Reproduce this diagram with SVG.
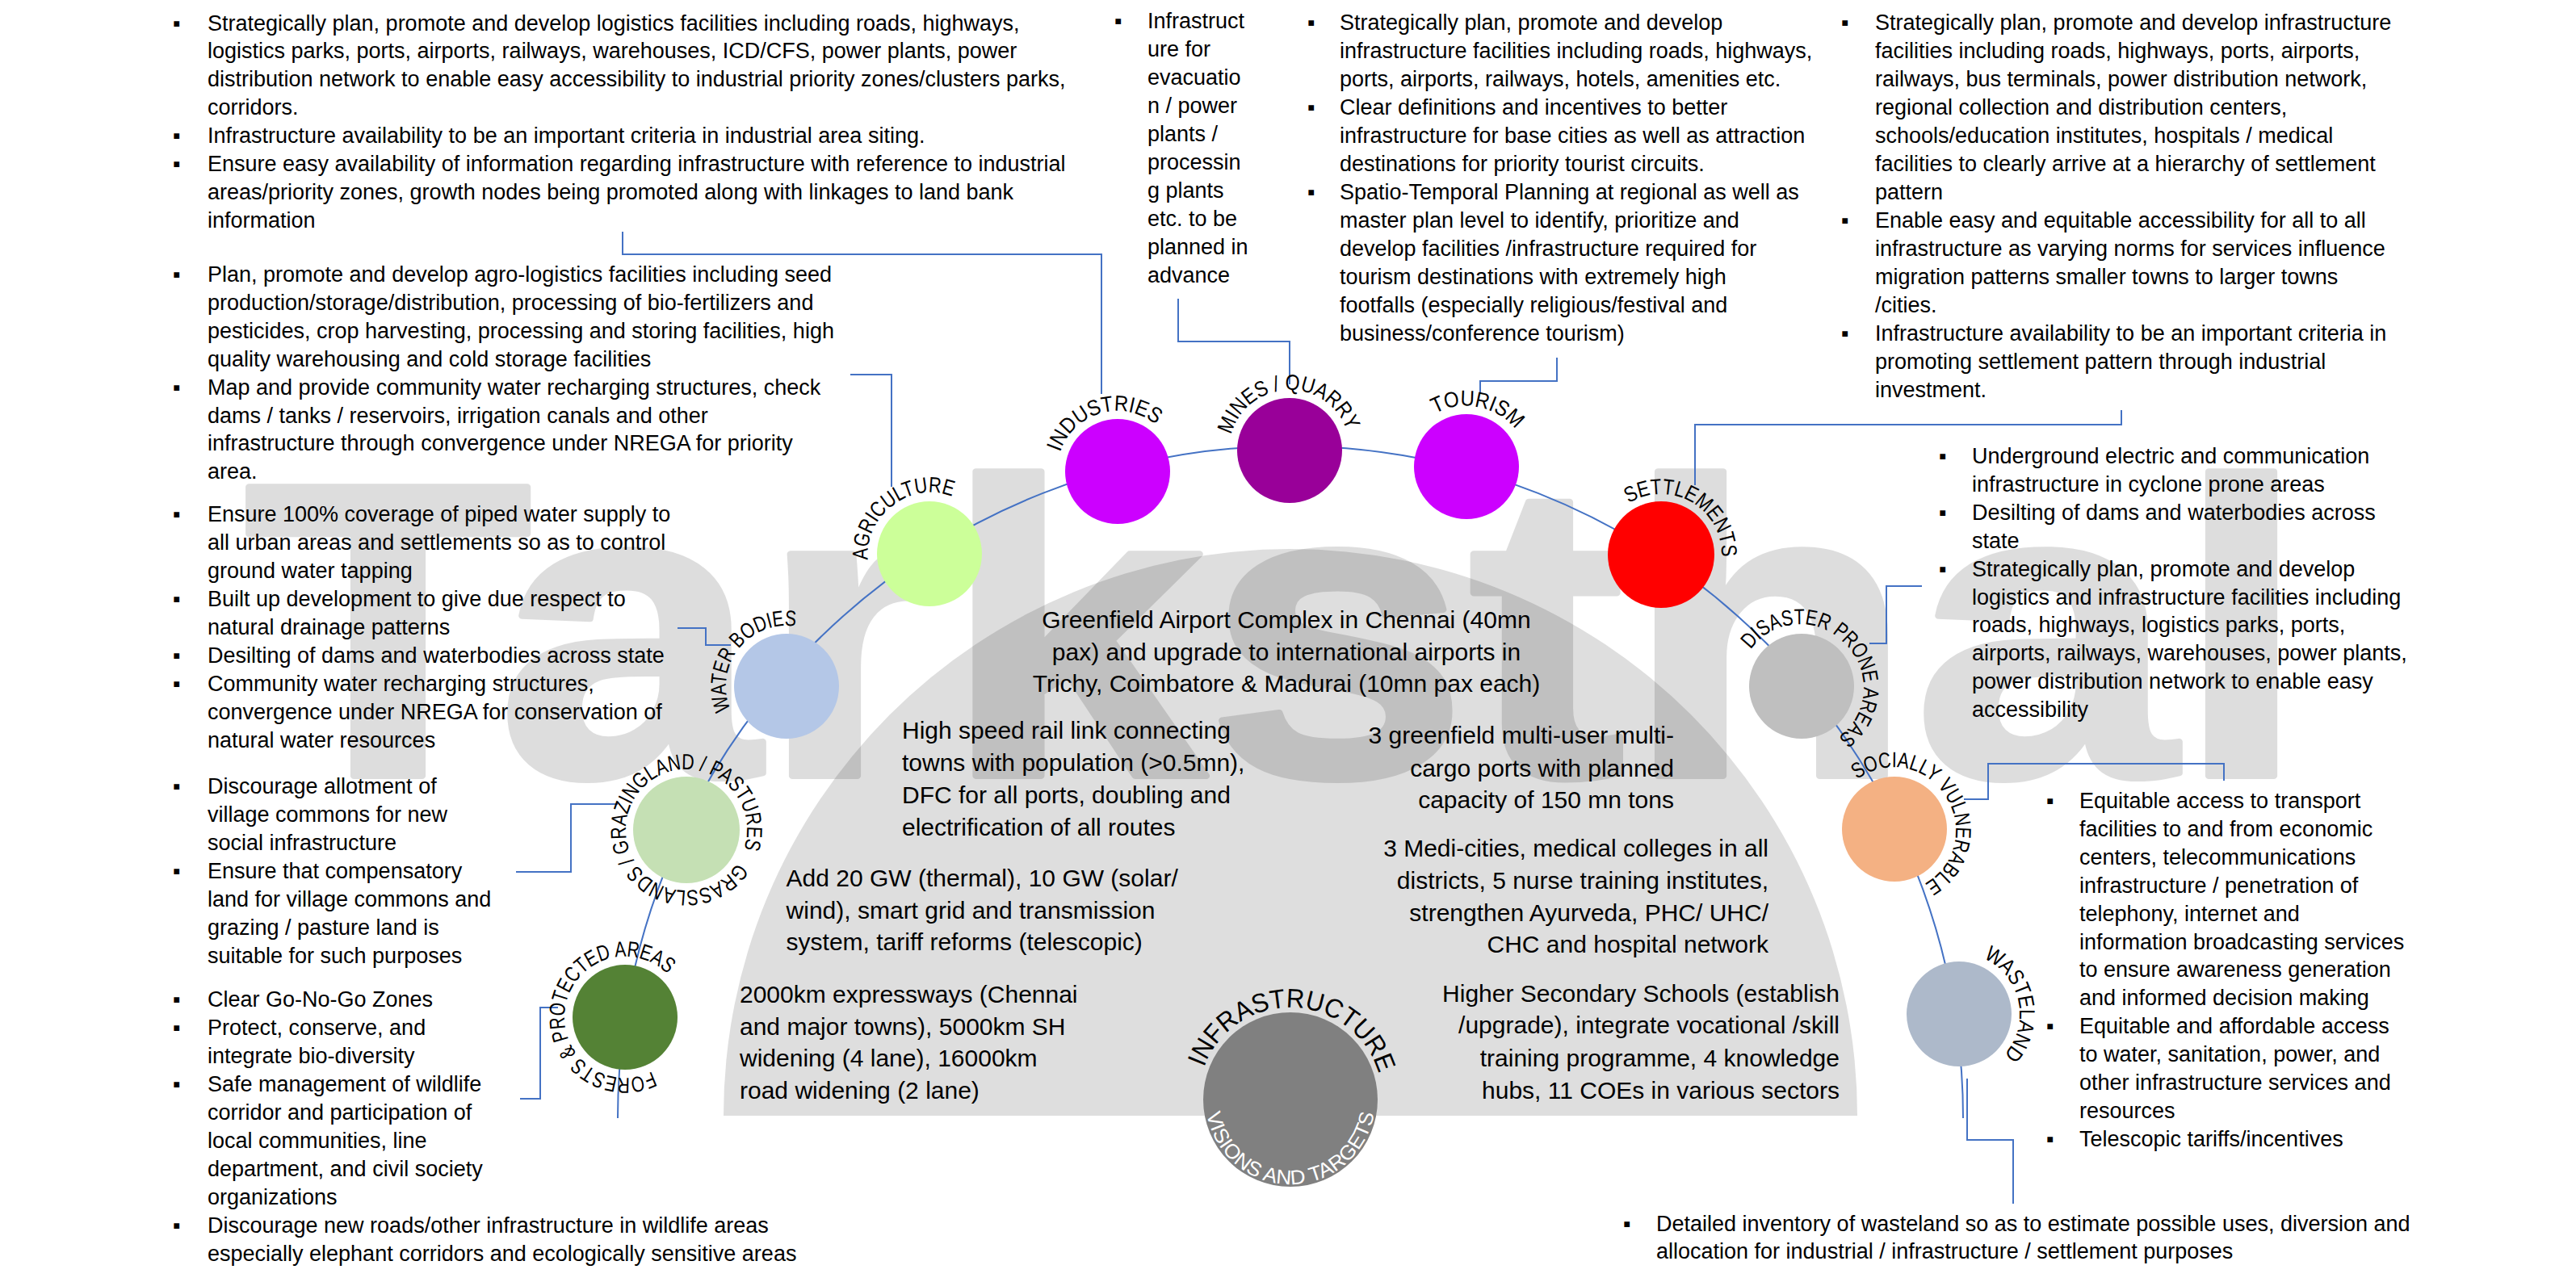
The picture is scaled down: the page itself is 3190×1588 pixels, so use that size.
<svg xmlns="http://www.w3.org/2000/svg" xmlns:xlink="http://www.w3.org/1999/xlink" width="3190" height="1588" viewBox="0 0 3190 1588">
<defs>
<style>
.t{font-family:"Liberation Sans",Arial,sans-serif;font-size:27px;fill:#000}
.c{font-family:"Liberation Sans",Arial,sans-serif;font-size:30px;fill:#000}
.lbl{font-family:"Liberation Sans",Arial,sans-serif;font-size:27px;fill:#000}
.conn{fill:none;stroke:#4472C4;stroke-width:2}
</style>
<path id="p-agr" d="M1196.1 745.9 A75 75 0 1 1 1105.9 626.1 A75 75 0 1 1 1196.1 745.9"/>
<path id="p-ind" d="M1404.7 656.1 A75 75 0 1 1 1363.3 511.9 A75 75 0 1 1 1404.7 656.1"/>
<path id="p-min" d="M1599.6 633 A75 75 0 1 1 1594.4 483 A75 75 0 1 1 1599.6 633"/>
<path id="p-tou" d="M1801.7 651.6 A75 75 0 1 1 1830.3 504.4 A75 75 0 1 1 1801.7 651.6"/>
<path id="p-set" d="M2019.5 752 A75 75 0 1 1 2094.5 622 A75 75 0 1 1 2019.5 752"/>
<path id="p-dis" d="M2178 903 A75 75 0 1 1 2284 797 A75 75 0 1 1 2178 903"/>
<path id="p-soc" d="M2283.1 1067.8 A75 75 0 1 1 2408.9 986.2 A75 75 0 1 1 2283.1 1067.8"/>
<path id="p-was" d="M2352.6 1271.6 A75 75 0 1 1 2499.4 1240.4 A75 75 0 1 1 2352.6 1271.6"/>
<path id="p-wat" d="M1033.1 896.2 A75 75 0 1 1 914.9 803.8 A75 75 0 1 1 1033.1 896.2"/>
<path id="p-gra" d="M917.7 1060.3 A75 75 0 1 1 782.3 995.7 A75 75 0 1 1 917.7 1060.3"/>
<path id="p-for" d="M848.1 1271.7 A75 75 0 1 1 699.9 1248.3 A75 75 0 1 1 848.1 1271.7"/>
<path id="p-inf" d="M1594 1476 A114 114 0 1 1 1602 1248 A114 114 0 1 1 1594 1476"/>
<path id="p-vis" d="M1598 1257 A105 105 0 1 0 1598 1467 A105 105 0 1 0 1598 1257"/>
</defs>
<rect x="0" y="0" width="3190" height="1588" fill="#FFFFFF"/>
<g id="background">
<path d="M896 1382 A702 702 0 0 1 2300 1382 Z" fill="#DEDEDE"/>
</g>
<g id="watermark" opacity="0.13">
<text x="302" y="961" font-family="Liberation Sans,Arial,sans-serif" font-weight="bold" font-size="520" textLength="2555" lengthAdjust="spacingAndGlyphs" fill="#000" stroke="#000" stroke-width="8" stroke-linejoin="round">Tarksthal</text>
</g>
<g id="connectors">
<path class="conn" d="M765 1385 A833 833 0 0 1 2431 1385"/>
<path class="conn" d="M771 287 V315 H1364 V488"/>
<path class="conn" d="M1053 464 H1104 V603"/>
<path class="conn" d="M1459 370 V423 H1597 V476"/>
<path class="conn" d="M1928 443 V472 H1833 V487"/>
<path class="conn" d="M2627 508 V526 H2099 V601"/>
<path class="conn" d="M839 778 H874 V799 H905"/>
<path class="conn" d="M639 1080 H707 V996 H765"/>
<path class="conn" d="M644 1361 H669 V1248 H691"/>
<path class="conn" d="M2380 726 H2336 V797 H2315"/>
<path class="conn" d="M2754 967 V946 H2462 V990 H2432"/>
<path class="conn" d="M2436 1336 V1412 H2493 V1491"/>
</g>
<g id="node-industries">
<circle cx="1384" cy="584" r="65" fill="#CC00FF"/>
<text class="lbl"><textPath xlink:href="#p-ind" startOffset="50%" text-anchor="middle" textLength="145" lengthAdjust="spacingAndGlyphs">INDUSTRIES</textPath></text>
<text class="t"><tspan x="214" y="37.5">▪</tspan><tspan x="257" y="37.5">Strategically plan, promote and develop logistics facilities including roads, highways,</tspan><tspan x="257" y="72.4">logistics parks, ports, airports, railways, warehouses, ICD/CFS, power plants, power</tspan><tspan x="257" y="107.3">distribution network to enable easy accessibility to industrial priority zones/clusters parks,</tspan><tspan x="257" y="142.2">corridors.</tspan><tspan x="214" y="177.1">▪</tspan><tspan x="257" y="177.1">Infrastructure availability to be an important criteria in industrial area siting.</tspan><tspan x="214" y="212">▪</tspan><tspan x="257" y="212">Ensure easy availability of information regarding infrastructure with reference to industrial</tspan><tspan x="257" y="246.9">areas/priority zones, growth nodes being promoted along with linkages to land bank</tspan><tspan x="257" y="281.8">information</tspan></text>
</g>
<g id="node-agriculture">
<circle cx="1151" cy="686" r="65" fill="#CCFF99"/>
<text class="lbl"><textPath xlink:href="#p-agr" startOffset="50%" text-anchor="middle" textLength="155" lengthAdjust="spacingAndGlyphs">AGRICULTURE</textPath></text>
<text class="t"><tspan x="214" y="349">▪</tspan><tspan x="257" y="349">Plan, promote and develop agro-logistics facilities including seed</tspan><tspan x="257" y="383.9">production/storage/distribution, processing of bio-fertilizers and</tspan><tspan x="257" y="418.8">pesticides, crop harvesting, processing and storing facilities, high</tspan><tspan x="257" y="453.7">quality warehousing and cold storage facilities</tspan><tspan x="214" y="488.6">▪</tspan><tspan x="257" y="488.6">Map and provide community water recharging structures, check</tspan><tspan x="257" y="523.5">dams / tanks / reservoirs, irrigation canals and other</tspan><tspan x="257" y="558.4">infrastructure through convergence under NREGA for priority</tspan><tspan x="257" y="593.3">area.</tspan></text>
</g>
<g id="node-mines">
<circle cx="1597" cy="558" r="65" fill="#990099"/>
<text class="lbl"><textPath xlink:href="#p-min" startOffset="50%" text-anchor="middle" textLength="191" lengthAdjust="spacingAndGlyphs">MINES / QUARRY</textPath></text>
<text class="t"><tspan x="1380" y="35">▪</tspan><tspan x="1421" y="35">Infrastruct</tspan><tspan x="1421" y="70">ure for</tspan><tspan x="1421" y="105">evacuatio</tspan><tspan x="1421" y="140">n / power</tspan><tspan x="1421" y="175">plants /</tspan><tspan x="1421" y="210">processin</tspan><tspan x="1421" y="245">g plants</tspan><tspan x="1421" y="280">etc. to be</tspan><tspan x="1421" y="315">planned in</tspan><tspan x="1421" y="350">advance</tspan></text>
</g>
<g id="node-tourism">
<circle cx="1816" cy="578" r="65" fill="#CC00FF"/>
<text class="lbl"><textPath xlink:href="#p-tou" startOffset="50%" text-anchor="middle" textLength="110" lengthAdjust="spacingAndGlyphs">TOURISM</textPath></text>
<text class="t"><tspan x="1619" y="37">▪</tspan><tspan x="1659" y="37">Strategically plan, promote and develop</tspan><tspan x="1659" y="72">infrastructure facilities including roads, highways,</tspan><tspan x="1659" y="107">ports, airports, railways, hotels, amenities etc.</tspan><tspan x="1619" y="142">▪</tspan><tspan x="1659" y="142">Clear definitions and incentives to better</tspan><tspan x="1659" y="177">infrastructure for base cities as well as attraction</tspan><tspan x="1659" y="212">destinations for priority tourist circuits.</tspan><tspan x="1619" y="247">▪</tspan><tspan x="1659" y="247">Spatio-Temporal Planning at regional as well as</tspan><tspan x="1659" y="282">master plan level to identify, prioritize and</tspan><tspan x="1659" y="317">develop facilities /infrastructure required for</tspan><tspan x="1659" y="352">tourism destinations with extremely high</tspan><tspan x="1659" y="387">footfalls (especially religious/festival and</tspan><tspan x="1659" y="422">business/conference tourism)</tspan></text>
</g>
<g id="node-settlements">
<circle cx="2057" cy="687" r="66" fill="#FF0000"/>
<text class="lbl"><textPath xlink:href="#p-set" startOffset="50%" text-anchor="middle" textLength="163" lengthAdjust="spacingAndGlyphs">SETTLEMENTS</textPath></text>
<text class="t"><tspan x="2280" y="36.7">▪</tspan><tspan x="2322" y="36.7">Strategically plan, promote and develop infrastructure</tspan><tspan x="2322" y="71.7">facilities including roads, highways, ports, airports,</tspan><tspan x="2322" y="106.7">railways, bus terminals, power distribution network,</tspan><tspan x="2322" y="141.7">regional collection and distribution centers,</tspan><tspan x="2322" y="176.7">schools/education institutes, hospitals / medical</tspan><tspan x="2322" y="211.7">facilities to clearly arrive at a hierarchy of settlement</tspan><tspan x="2322" y="246.7">pattern</tspan><tspan x="2280" y="281.7">▪</tspan><tspan x="2322" y="281.7">Enable easy and equitable accessibility for all to all</tspan><tspan x="2322" y="316.7">infrastructure as varying norms for services influence</tspan><tspan x="2322" y="351.7">migration patterns smaller towns to larger towns</tspan><tspan x="2322" y="386.7">/cities.</tspan><tspan x="2280" y="421.7">▪</tspan><tspan x="2322" y="421.7">Infrastructure availability to be an important criteria in</tspan><tspan x="2322" y="456.7">promoting settlement pattern through industrial</tspan><tspan x="2322" y="491.7">investment.</tspan></text>
</g>
<g id="node-water-bodies">
<circle cx="974" cy="850" r="65" fill="#B4C7E7"/>
<text class="lbl"><textPath xlink:href="#p-wat" startOffset="50%" text-anchor="middle" textLength="159" lengthAdjust="spacingAndGlyphs">WATER BODIES</textPath></text>
<text class="t"><tspan x="214" y="646">▪</tspan><tspan x="257" y="646">Ensure 100% coverage of piped water supply to</tspan><tspan x="257" y="681">all urban areas and settlements so as to control</tspan><tspan x="257" y="716">ground water tapping</tspan><tspan x="214" y="751">▪</tspan><tspan x="257" y="751">Built up development to give due respect to</tspan><tspan x="257" y="786">natural drainage patterns</tspan><tspan x="214" y="821">▪</tspan><tspan x="257" y="821">Desilting of dams and waterbodies across state</tspan><tspan x="214" y="856">▪</tspan><tspan x="257" y="856">Community water recharging structures,</tspan><tspan x="257" y="891">convergence under NREGA for conservation of</tspan><tspan x="257" y="926">natural water resources</tspan></text>
</g>
<g id="node-disaster-prone-areas">
<circle cx="2231" cy="850" r="65" fill="#BFBFBF"/>
<text class="lbl"><textPath xlink:href="#p-dis" startOffset="50%" text-anchor="middle" textLength="266" lengthAdjust="spacingAndGlyphs">DISASTER PRONE AREAS</textPath></text>
<text class="t"><tspan x="2401" y="574">▪</tspan><tspan x="2442" y="574">Underground electric and communication</tspan><tspan x="2442" y="608.9">infrastructure in cyclone prone areas</tspan><tspan x="2401" y="643.8">▪</tspan><tspan x="2442" y="643.8">Desilting of dams and waterbodies across</tspan><tspan x="2442" y="678.7">state</tspan><tspan x="2401" y="713.6">▪</tspan><tspan x="2442" y="713.6">Strategically plan, promote and develop</tspan><tspan x="2442" y="748.5">logistics and infrastructure facilities including</tspan><tspan x="2442" y="783.4">roads, highways, logistics parks, ports,</tspan><tspan x="2442" y="818.3">airports, railways, warehouses, power plants,</tspan><tspan x="2442" y="853.2">power distribution network to enable easy</tspan><tspan x="2442" y="888.1">accessibility</tspan></text>
</g>
<g id="node-grasslands">
<circle cx="850" cy="1028" r="66" fill="#C5E0B4"/>
<text class="lbl"><textPath xlink:href="#p-gra" startOffset="50%" text-anchor="middle" textLength="452" lengthAdjust="spacingAndGlyphs">GRASSLANDS / GRAZINGLAND / PASTURES</textPath></text>
<text class="t"><tspan x="214" y="983">▪</tspan><tspan x="257" y="983">Discourage allotment of</tspan><tspan x="257" y="1018">village commons for new</tspan><tspan x="257" y="1053">social infrastructure</tspan><tspan x="214" y="1088">▪</tspan><tspan x="257" y="1088">Ensure that compensatory</tspan><tspan x="257" y="1123">land for village commons and</tspan><tspan x="257" y="1158">grazing / pasture land is</tspan><tspan x="257" y="1193">suitable for such purposes</tspan></text>
</g>
<g id="node-socially-vulnerable">
<circle cx="2346" cy="1027" r="65" fill="#F4B183"/>
<text class="lbl"><textPath xlink:href="#p-soc" startOffset="50%" text-anchor="middle" textLength="250" lengthAdjust="spacingAndGlyphs">SOCIALLY VULNERABLE</textPath></text>
<text class="t"><tspan x="2534" y="1001">▪</tspan><tspan x="2575" y="1001">Equitable access to transport</tspan><tspan x="2575" y="1035.9">facilities to and from economic</tspan><tspan x="2575" y="1070.8">centers, telecommunications</tspan><tspan x="2575" y="1105.7">infrastructure / penetration of</tspan><tspan x="2575" y="1140.6">telephony, internet and</tspan><tspan x="2575" y="1175.5">information broadcasting services</tspan><tspan x="2575" y="1210.4">to ensure awareness generation</tspan><tspan x="2575" y="1245.3">and informed decision making</tspan><tspan x="2534" y="1280.2">▪</tspan><tspan x="2575" y="1280.2">Equitable and affordable access</tspan><tspan x="2575" y="1315.1">to water, sanitation, power, and</tspan><tspan x="2575" y="1350">other infrastructure services and</tspan><tspan x="2575" y="1384.9">resources</tspan><tspan x="2534" y="1419.8">▪</tspan><tspan x="2575" y="1419.8">Telescopic tariffs/incentives</tspan></text>
</g>
<g id="node-forests">
<circle cx="774" cy="1260" r="65" fill="#548235"/>
<text class="lbl"><textPath xlink:href="#p-for" startOffset="50%" text-anchor="middle" textLength="329" lengthAdjust="spacingAndGlyphs">FORESTS &amp; PROTECTED AREAS</textPath></text>
<text class="t"><tspan x="214" y="1247">▪</tspan><tspan x="257" y="1247">Clear Go-No-Go Zones</tspan><tspan x="214" y="1282">▪</tspan><tspan x="257" y="1282">Protect, conserve, and</tspan><tspan x="257" y="1317">integrate bio-diversity</tspan><tspan x="214" y="1352">▪</tspan><tspan x="257" y="1352">Safe management of wildlife</tspan><tspan x="257" y="1387">corridor and participation of</tspan><tspan x="257" y="1422">local communities, line</tspan><tspan x="257" y="1457">department, and civil society</tspan><tspan x="257" y="1492">organizations</tspan><tspan x="214" y="1527">▪</tspan><tspan x="257" y="1527">Discourage new roads/other infrastructure in wildlife areas</tspan><tspan x="257" y="1562">especially elephant corridors and ecologically sensitive areas</tspan></text>
</g>
<g id="node-wasteland">
<circle cx="2426" cy="1256" r="65" fill="#ADB9CA"/>
<text class="lbl"><textPath xlink:href="#p-was" startOffset="50%" text-anchor="middle" textLength="143" lengthAdjust="spacingAndGlyphs">WASTELAND</textPath></text>
<text class="t"><tspan x="2010" y="1525">▪</tspan><tspan x="2051" y="1525">Detailed inventory of wasteland so as to estimate possible uses, diversion and</tspan><tspan x="2051" y="1559">allocation for industrial / infrastructure / settlement purposes</tspan></text>
</g>
<g id="node-infrastructure">
<circle cx="1598" cy="1362" r="108" fill="#808080"/>
<text class="lbl" style="font-size:33px"><textPath xlink:href="#p-inf" startOffset="50%" text-anchor="middle" textLength="285" lengthAdjust="spacingAndGlyphs">INFRASTRUCTURE</textPath></text>
<text class="lbl" style="font-size:25px;fill:#FFFFFF"><textPath xlink:href="#p-vis" startOffset="50%" text-anchor="middle" textLength="295" lengthAdjust="spacingAndGlyphs">VISIONS AND TARGETS</textPath></text>
<text class="c" text-anchor="middle"><tspan x="1593" y="777.6">Greenfield Airport Complex in Chennai (40mn</tspan><tspan x="1593" y="817.8">pax) and upgrade to international airports in</tspan><tspan x="1593" y="857.4">Trichy, Coimbatore &amp; Madurai (10mn pax each)</tspan></text>
<text class="c"><tspan x="1117" y="915">High speed rail link connecting</tspan><tspan x="1117" y="955">towns with population (&gt;0.5mn),</tspan><tspan x="1117" y="994.5">DFC for all ports, doubling and</tspan><tspan x="1117" y="1035">electrification of all routes</tspan></text>
<text class="c" text-anchor="end"><tspan x="2073" y="921">3 greenfield multi-user multi-</tspan><tspan x="2073" y="961.6">cargo ports with planned</tspan><tspan x="2073" y="1001">capacity of 150 mn tons</tspan></text>
<text class="c"><tspan x="973.6" y="1098">Add 20 GW (thermal), 10 GW (solar/</tspan><tspan x="973.6" y="1137.7">wind), smart grid and transmission</tspan><tspan x="973.6" y="1177">system, tariff reforms (telescopic)</tspan></text>
<text class="c" text-anchor="end"><tspan x="2190" y="1060.7">3 Medi-cities, medical colleges in all</tspan><tspan x="2190" y="1101">districts, 5 nurse training institutes,</tspan><tspan x="2190" y="1140.5">strengthen Ayurveda, PHC/ UHC/</tspan><tspan x="2190" y="1180">CHC and hospital network</tspan></text>
<text class="c"><tspan x="916" y="1242">2000km expressways (Chennai</tspan><tspan x="916" y="1281.5">and major towns), 5000km SH</tspan><tspan x="916" y="1321">widening (4 lane), 16000km</tspan><tspan x="916" y="1361">road widening (2 lane)</tspan></text>
<text class="c" text-anchor="end"><tspan x="2278" y="1241">Higher Secondary Schools (establish</tspan><tspan x="2278" y="1280">/upgrade), integrate vocational /skill</tspan><tspan x="2278" y="1321">training programme, 4 knowledge</tspan><tspan x="2278" y="1361">hubs, 11 COEs in various sectors</tspan></text>
</g>
</svg>
